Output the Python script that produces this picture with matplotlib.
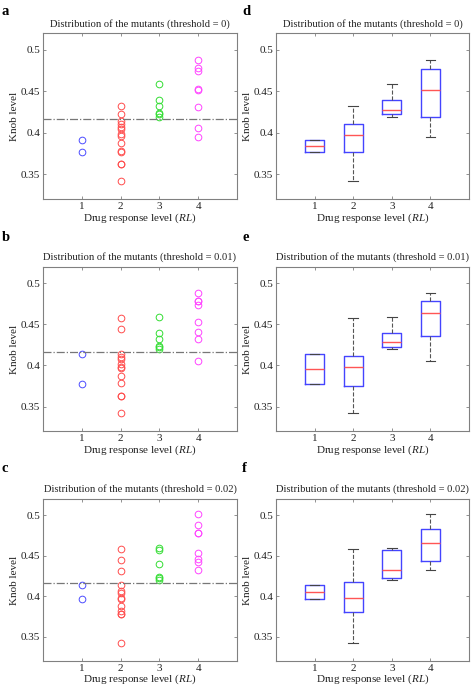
import numpy as np
import matplotlib
matplotlib.use('Agg')
import matplotlib.pyplot as plt
from matplotlib.ticker import FormatStrFormatter

plt.rcParams['font.family'] = ['Liberation Serif', 'DejaVu Serif']
plt.rcParams['mathtext.fontset'] = 'custom'
plt.rcParams['mathtext.it'] = 'Liberation Serif:italic'
plt.rcParams['mathtext.rm'] = 'Liberation Serif'

# 药物响应等级 RL 1..4
rl_levels = [1, 2, 3, 4]
thresholds = ['0', '0.01', '0.02']
knob_cut = 0.4166

# threshold = 0
t0_rl1 = [0.3914, 0.3765]
t0_rl2 = [0.4328, 0.4228, 0.4143, 0.4103, 0.4067, 0.4047, 0.3982, 0.3958,
          0.3874, 0.3781, 0.3765, 0.3624, 0.3624, 0.3420]
t0_rl3 = [0.4594, 0.4397, 0.4324, 0.4236, 0.4224, 0.4196]
t0_rl4 = [0.4879, 0.4783, 0.4747, 0.4525, 0.4513, 0.4316, 0.4055, 0.3955]

# threshold = 0.01
t1_rl1 = [0.4142, 0.3769]
t1_rl2 = [0.4580, 0.4442, 0.4134, 0.4105, 0.4074, 0.4014, 0.3985, 0.3965,
          0.3876, 0.3785, 0.3632, 0.3632, 0.3419]
t1_rl3 = [0.4591, 0.4394, 0.4326, 0.4242, 0.4226, 0.4194]
t1_rl4 = [0.4880, 0.4780, 0.4780, 0.4740, 0.4527, 0.4402, 0.4322, 0.4053]

# threshold = 0.02
t2_rl1 = [0.4142, 0.3960]
t2_rl2 = [0.4580, 0.4447, 0.4307, 0.4132, 0.4058, 0.4045, 0.3982, 0.3965,
          0.3883, 0.3821, 0.3777, 0.3777, 0.3420]
t2_rl3 = [0.4596, 0.4575, 0.4391, 0.4242, 0.4218, 0.4194]
t2_rl4 = [0.5008, 0.4880, 0.4776, 0.4776, 0.4527, 0.4455, 0.4423, 0.4323]

groups = [[t0_rl1, t0_rl2, t0_rl3, t0_rl4],
          [t1_rl1, t1_rl2, t1_rl3, t1_rl4],
          [t2_rl1, t2_rl2, t2_rl3, t2_rl4]]

rl_colors = ['#4d4dff', '#ff4d4d', '#33dd33', '#ff44ff']
left_letters = ['a', 'b', 'c']
right_letters = ['d', 'e', 'f']

# 每行的纵向位置 (bottom, height)
rows = [(0.7112, 0.2406), (0.3749, 0.2386), (0.0420, 0.2350)]
letter_y = [0.993, 0.665, 0.330]
edge = '#808080'


def box_stats(vals, pos):
    # matlab 风格的分位数
    v = np.array(vals)
    q1, med, q3 = np.percentile(v, [25, 50, 75], method='hazen')
    iqr = q3 - q1
    hi = v[v <= q3 + 1.5 * iqr].max()
    lo = v[v >= q1 - 1.5 * iqr].min()
    fl = v[(v > hi) | (v < lo)]
    return dict(med=med, q1=q1, q3=q3, whislo=lo, whishi=hi, fliers=fl, label=str(pos))


def style_axes(ax, title):
    ax.set_xlim(0, 5)
    ax.set_ylim(0.32, 0.52)
    ax.set_xticks(rl_levels)
    ax.set_yticks([0.35, 0.4, 0.45, 0.5])
    ax.yaxis.set_major_formatter(FormatStrFormatter('%g'))
    ax.tick_params(direction='in', top=True, right=True, length=2.5, width=0.6,
                   colors='#222222', labelsize=8, pad=2)
    ax.tick_params(color=edge)
    for s in ax.spines.values():
        s.set_color(edge)
        s.set_linewidth(0.8)
    ax.set_title(title, fontsize=7.6, pad=5, color='#222222')
    ax.set_xlabel('Drug response level ($RL$)', fontsize=8, labelpad=0, color='#222222')
    ax.set_ylabel('Knob level', fontsize=8, labelpad=1, color='#222222')


fig = plt.figure(figsize=(4.72, 6.9), dpi=100)

for i in range(3):
    b, h = rows[i]
    title = 'Distribution of the mutants (threshold = %s)' % thresholds[i]

    # 左列: 散点
    ax = fig.add_axes([0.0911, b, 0.411, h])
    for k in range(4):
        ax.plot([rl_levels[k]] * len(groups[i][k]), groups[i][k], 'o', mfc='none',
                mec=rl_colors[k], ms=4.8, mew=0.7)
    ax.axhline(knob_cut, color='#777777', ls='-.', lw=0.9)
    style_axes(ax, title)
    fig.text(0.004, letter_y[i], left_letters[i], fontsize=10.5, fontweight='bold',
             va='top', ha='left')

    # 右列: 箱线图
    ax2 = fig.add_axes([0.5847, b, 0.4089, h])
    stats = [box_stats(groups[i][k], rl_levels[k]) for k in range(4)]
    ax2.bxp(stats, positions=rl_levels, widths=0.5, showfliers=True,
            boxprops=dict(color='#4444ff', lw=1.0),
            medianprops=dict(color='#ff5555', lw=1.0),
            whiskerprops=dict(color='#555555', ls='--', lw=0.8),
            capprops=dict(color='#444444', lw=0.8),
            flierprops=dict(marker='+', mec='#ff4444', ms=5, mew=0.8))
    style_axes(ax2, title)
    fig.text(0.513, letter_y[i], right_letters[i], fontsize=10.5, fontweight='bold',
             va='top', ha='left')

fig.savefig('out.png', dpi=100)
